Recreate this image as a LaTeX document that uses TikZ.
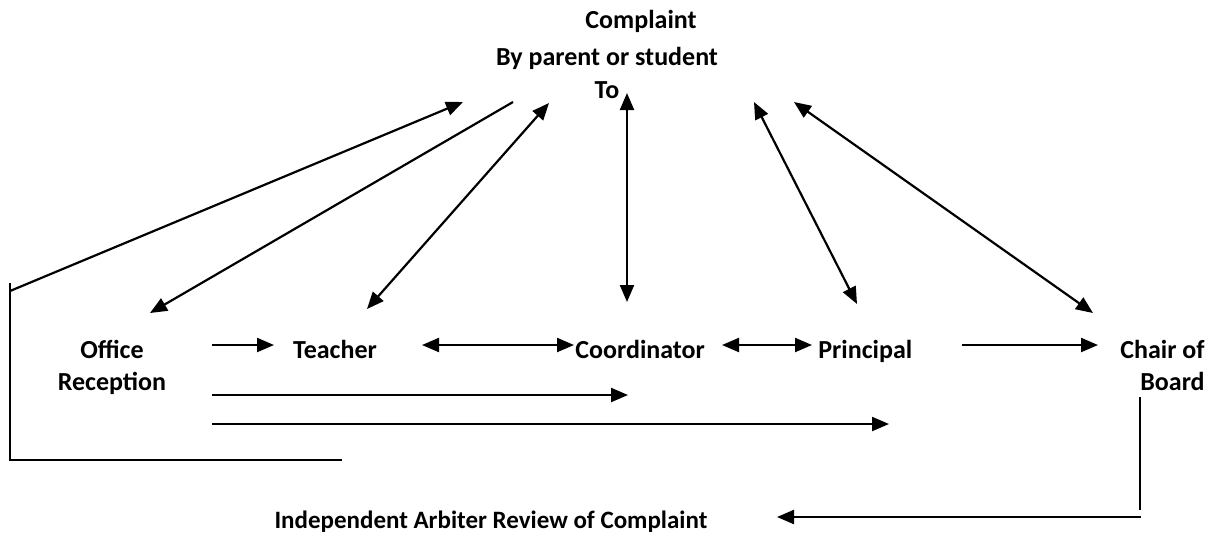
\documentclass[tikz,border=0pt]{standalone}
\usepackage{fontspec}
\setmainfont{Carlito}
\usetikzlibrary{arrows.meta}
\tikzset{
  lbl/.style={inner sep=0pt, font=\fontsize{13}{16}\selectfont\bfseries},
  conn/.style={line width=1.1pt, black},
  tip/.style={-{Triangle[length=8.5pt,width=7pt]}},
  tips/.style={{Triangle[length=8.5pt,width=7pt]}-{Triangle[length=8.5pt,width=7pt]}}
}
\begin{document}
\begin{tikzpicture}[x=0.5pt,y=-0.5pt]
\useasboundingbox (0,0) rectangle (1216,538);
% texts
\node[lbl,anchor=base] (complaint) at (641,28) {Complaint};
\node[lbl,anchor=base] (byparent) at (607,65) {By parent or student};
\node[lbl,anchor=base] (to) at (607,98) {To};
\node[lbl,anchor=base] (office) at (112,358) {\begin{tabular}[t]{@{}c@{}}Office\\Reception\end{tabular}};
\node[lbl,anchor=base] (teacher) at (335,358) {Teacher};
\node[lbl,anchor=base west] (coord) at (575,358) {Coordinator};
\node[lbl,anchor=base west] (principal) at (818,358) {Principal};
\node[lbl,anchor=base east] (chair) at (1205,358) {\begin{tabular}[t]{@{}r@{}}Chair of\\Board\end{tabular}};
\node[lbl,anchor=base,font=\fontsize{12.5}{15}\selectfont\bfseries] (arbiter) at (491,528) {Independent Arbiter Review of Complaint};
% coordinates
\coordinate (l0) at (10,283);
\coordinate (l1) at (10,291);
\coordinate (l2) at (10,460);
\coordinate (l3) at (342,460);
\coordinate (a1) at (463,102);
\coordinate (b0) at (513,102);
\coordinate (b1) at (150,313);
\coordinate (c0) at (549,103);
\coordinate (c1) at (367,309);
\coordinate (d0) at (627,93);
\coordinate (d1) at (627,302);
\coordinate (e0) at (754,102);
\coordinate (e1) at (857,304);
\coordinate (f0) at (794,102);
\coordinate (f1) at (1093,313);
\coordinate (h0) at (212,345);
\coordinate (h1) at (274,345);
\coordinate (h2) at (422,345);
\coordinate (h3) at (574,345);
\coordinate (h4) at (722,345);
\coordinate (h5) at (812,345);
\coordinate (h6) at (962,345);
\coordinate (h7) at (1098,345);
\coordinate (k0) at (212,395);
\coordinate (k1) at (628,395);
\coordinate (m0) at (212,424);
\coordinate (m1) at (889,424);
\coordinate (v0) at (1140,397);
\coordinate (v1) at (1140,510);
\coordinate (w0) at (1141,517);
\coordinate (w1) at (777,517);
% connectors
\draw[conn] (l0) -- (l2) -- (l3);
\draw[conn,tip] (l1) -- (a1);
\draw[conn,tip] (b0) -- (b1);
\draw[conn,tips] (c0) -- (c1);
\draw[conn,tips] (d0) -- (d1);
\draw[conn,tips] (e0) -- (e1);
\draw[conn,tips] (f0) -- (f1);
\draw[conn,tip] (h0) -- (h1);
\draw[conn,tips] (h2) -- (h3);
\draw[conn,tips] (h4) -- (h5);
\draw[conn,tip] (h6) -- (h7);
\draw[conn,tip] (k0) -- (k1);
\draw[conn,tip] (m0) -- (m1);
\draw[conn] (v0) -- (v1);
\draw[conn,tip] (w0) -- (w1);
\end{tikzpicture}
\end{document}
